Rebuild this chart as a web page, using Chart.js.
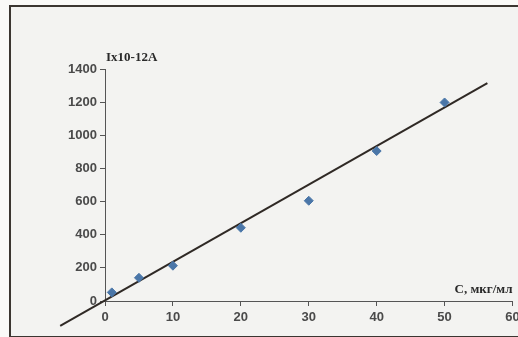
<!DOCTYPE html>
<html>
<head>
<meta charset="utf-8">
<script src="https://cdn.jsdelivr.net/npm/chart.js@4"></script>
<style>
  html, body { margin: 0; padding: 0; background: #fafaf8; }
  #wrap { position: relative; width: 518px; height: 337px; overflow: hidden; }
  #frame { position: absolute; left: 9px; top: 5px; width: 520px; height: 329px;
           border: 2px solid #3b3631; background: #f3f3f1; }
  canvas { position: absolute; left: 0; top: 0; }
</style>
</head>
<body>
<div id="wrap">
  <div id="frame"></div>
  <canvas id="chart" width="518" height="337"></canvas>
</div>
<script>
// measured points (C, мкг/мл -> I x10-12 A)
const concX = [1, 5, 10, 20, 30, 40, 50];
const currentY = [52, 140, 213, 442, 605, 905, 1198];
// trend line end points
const trendX = [-6.6, 56.3];
const trendY = [-150, 1315];
const xTicks = [0, 10, 20, 30, 40, 50, 60];
const yTicks = [0, 200, 400, 600, 800, 1000, 1200, 1400];

const yTitle = 'Ix10-12A';
const xTitle = 'C, мкг/мл';

const axisTitles = {
    id: 'axisTitles',
    afterDraw(c) {
        const ctx = c.ctx;
        const xs = c.scales.x, ys = c.scales.y;
        ctx.save();
        ctx.fillStyle = '#2a2a2a';
        ctx.font = 'bold 13px "Liberation Serif", serif';
        ctx.textBaseline = 'alphabetic';
        ctx.textAlign = 'left';
        ctx.fillText(yTitle, xs.left + 1, ys.top - 8);
        ctx.textAlign = 'right';
        ctx.fillText(xTitle, xs.right, ys.bottom - 8);
        ctx.restore();
    }
};

new Chart(document.querySelector('#chart').getContext('2d'), {
    type: 'scatter',
    data: {
        datasets: [
            {
                label: 'trend',
                type: 'line',
                data: trendX.map((x, i) => ({x: x, y: trendY[i]})),
                borderColor: '#2f2925',
                borderWidth: 2,
                pointRadius: 0,
                clip: false,
                order: 2
            },
            {
                label: 'I',
                data: concX.map((x, i) => ({x: x, y: currentY[i]})),
                pointStyle: 'rectRot',
                pointRadius: 4.5,
                backgroundColor: '#4a76a8',
                borderColor: '#4a76a8',
                order: 1
            }
        ]
    },
    options: {
        responsive: false,
        animation: false,
        layout: { padding: { top: 69, right: 2, left: 0, bottom: 0 } },
        plugins: { legend: { display: false }, tooltip: { enabled: false } },
        scales: {
            x: {
                type: 'linear',
                min: 0, max: 60,
                afterBuildTicks: s => { s.ticks = xTicks.map(v => ({value: v})); },
                afterFit: s => { s.height = 36; s.paddingRight = 0; s.paddingLeft = 0; },
                grid: { drawOnChartArea: false, drawTicks: true, tickLength: 5, color: '#555' },
                border: { color: '#555', width: 1 },
                ticks: { color: '#4a4a4a', font: { family: 'Liberation Sans', size: 13, weight: 'bold' },
                         padding: 4, maxRotation: 0, callback: v => String(v) }
            },
            y: {
                min: 0, max: 1400,
                afterBuildTicks: s => { s.ticks = yTicks.map(v => ({value: v})); },
                afterFit: s => { s.width = 105; },
                grid: { drawOnChartArea: false, drawTicks: true, tickLength: 5, color: '#555' },
                border: { color: '#555', width: 1 },
                ticks: { color: '#4a4a4a', font: { family: 'Liberation Sans', size: 13, weight: 'bold' },
                         padding: 3, callback: v => String(v) }
            }
        }
    },
    plugins: [axisTitles]
});
</script>
</body>
</html>
